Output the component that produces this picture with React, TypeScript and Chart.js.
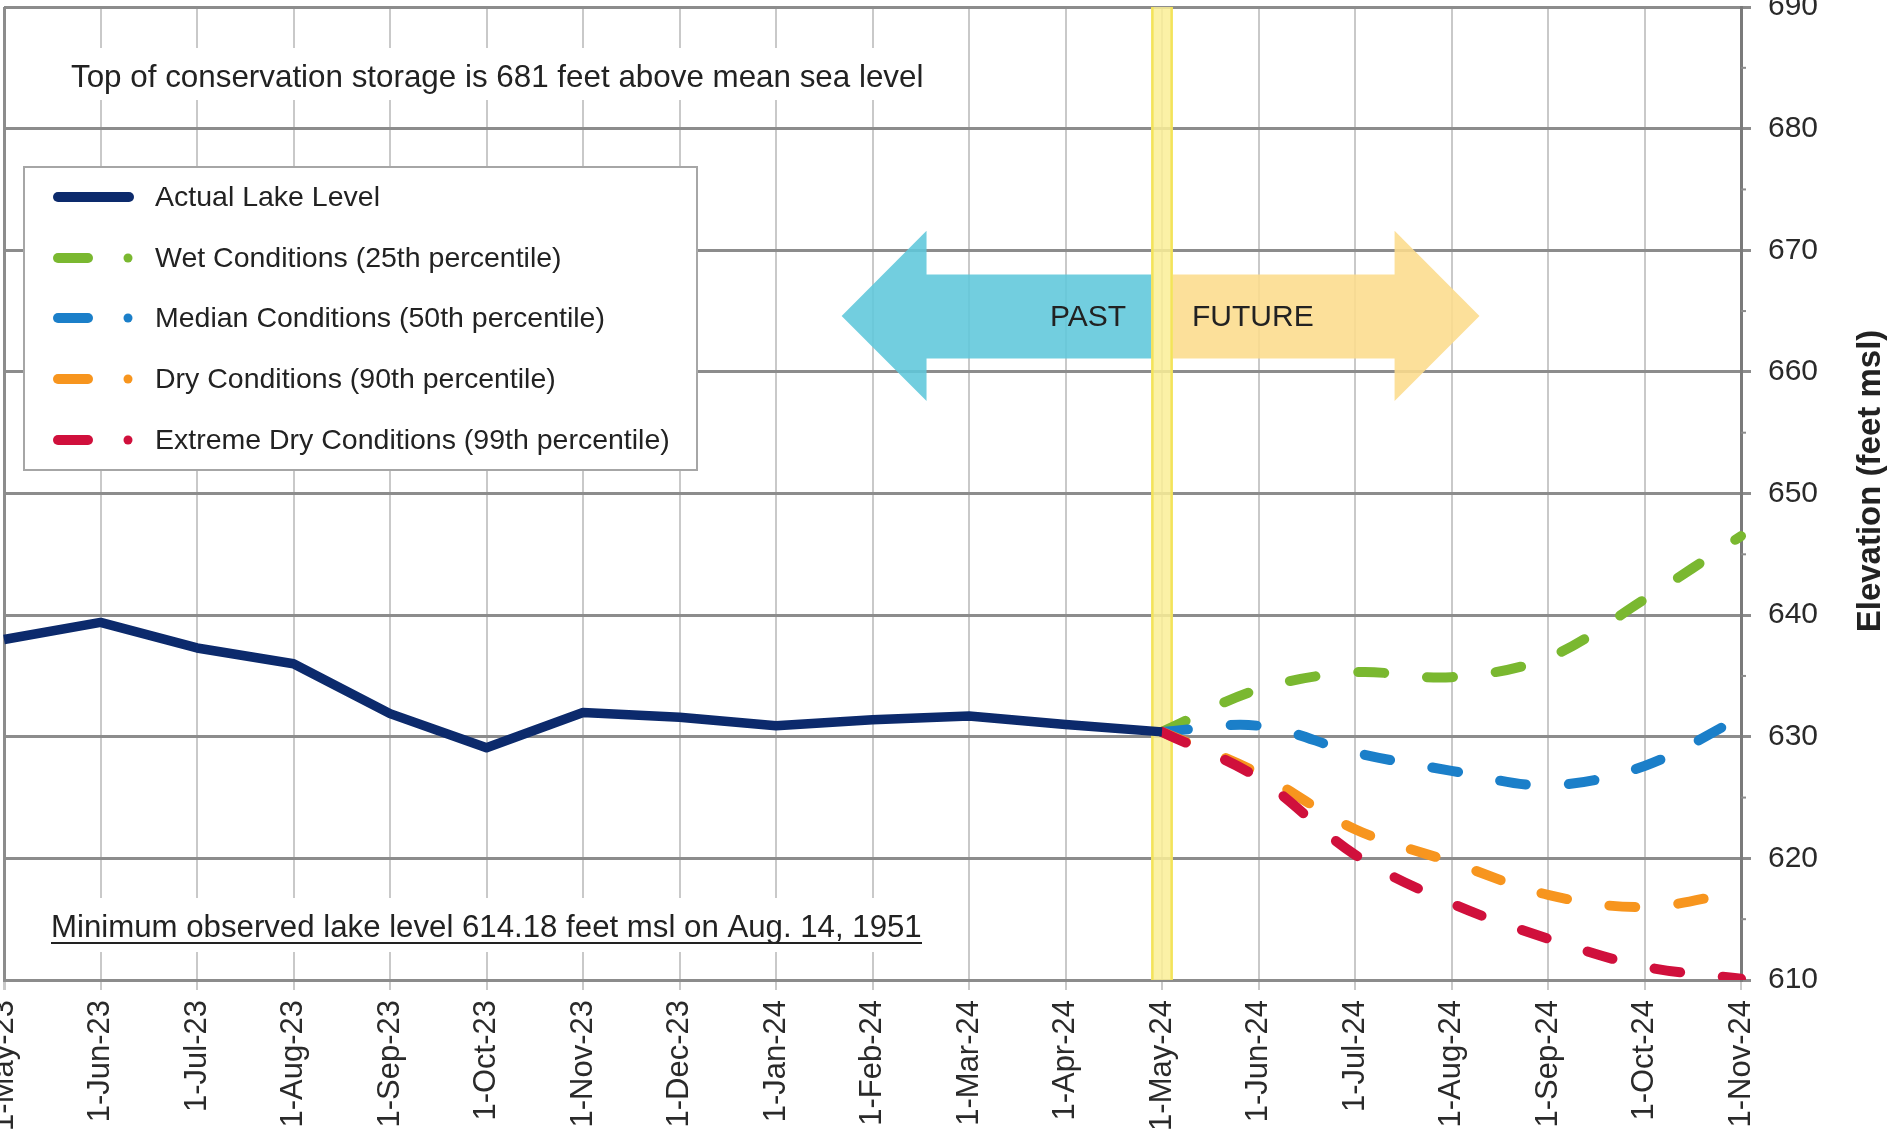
import React, { useEffect, useRef } from 'react';
import { Chart, registerables } from 'chart.js';

Chart.register(...registerables);

// ---------- data ----------
const monthLabels = [
  '1-May-23', '1-Jun-23', '1-Jul-23', '1-Aug-23', '1-Sep-23', '1-Oct-23', '1-Nov-23',
  '1-Dec-23', '1-Jan-24', '1-Feb-24', '1-Mar-24', '1-Apr-24', '1-May-24', '1-Jun-24',
  '1-Jul-24', '1-Aug-24', '1-Sep-24', '1-Oct-24', '1-Nov-24',
];

const actualLakeLevel = [
  638.0, 639.4, 637.3, 636.0, 631.9, 629.1, 632.0, 631.6, 630.9, 631.4, 631.7, 631.0, 630.4,
  null, null, null, null, null, null,
];
const wetConditions = [
  null, null, null, null, null, null, null, null, null, null, null, null,
  630.4, 633.9, 635.3, 634.9, 636.5, 641.3, 646.5,
];
const medianConditions = [
  null, null, null, null, null, null, null, null, null, null, null, null,
  630.4, 630.9, 628.7, 627.2, 626.0, 627.6, 631.6,
];
const dryConditions = [
  null, null, null, null, null, null, null, null, null, null, null, null,
  630.4, 627.0, 622.4, 619.7, 617.0, 616.0, 617.3,
];
const extremeDryConditions = [
  null, null, null, null, null, null, null, null, null, null, null, null,
  630.4, 626.6, 620.3, 616.3, 613.4, 611.1, 610.1,
];

const seriesNames = [
  'Actual Lake Level',
  'Wet Conditions (25th percentile)',
  'Median Conditions (50th percentile)',
  'Dry Conditions (90th percentile)',
  'Extreme Dry Conditions (99th percentile)',
];
const seriesColors = ['#0c2a6c', '#7ab830', '#1b7fc9', '#f7951e', '#d0103c'];

const yTickValues = [610, 620, 630, 640, 650, 660, 670, 680, 690];
const yMinorTickValues = [615, 625, 635, 645, 655, 665, 675, 685];

const topNote = 'Top of conservation storage is 681 feet above mean sea level';
const bottomNote = 'Minimum observed lake level 614.18 feet msl on Aug. 14, 1951';
const axisTitle = 'Elevation (feet msl)';
const pastLabel = 'PAST';
const futureLabel = 'FUTURE';

// ---------- styling ----------
const FONT = "'Liberation Sans', Arial, Helvetica, sans-serif";
const TEXT_COLOR = '#222222';
const MAJOR_GRID = '#8c8c8c';
const MINOR_GRID = '#c9c9c9';

function fitFontSize(ctx: CanvasRenderingContext2D, text: string, width: number, weight = '') {
  ctx.font = `${weight} 100px ${FONT}`;
  const w = ctx.measureText(text).width;
  return (100 * width) / w;
}

function drawArrow(
  ctx: CanvasRenderingContext2D,
  tipX: number,
  baseX: number,
  endX: number,
  cy: number,
  shaftTop: number,
  shaftBottom: number,
  headTop: number,
  headBottom: number,
  color: string
) {
  ctx.beginPath();
  ctx.moveTo(tipX, cy);
  ctx.lineTo(baseX, headTop);
  ctx.lineTo(baseX, shaftTop);
  ctx.lineTo(endX, shaftTop);
  ctx.lineTo(endX, shaftBottom);
  ctx.lineTo(baseX, shaftBottom);
  ctx.lineTo(baseX, headBottom);
  ctx.closePath();
  ctx.fillStyle = color;
  ctx.fill();
}

const annotationPlugin = {
  id: 'lakeAnnotations',
  beforeDatasetsDraw(chart: any) {
    const { ctx, chartArea, scales } = chart;
    const xs = scales.x;
    const ys = scales.y;
    ctx.save();

    // Top note white box + text
    const topSize = fitFontSize(ctx, topNote, 853);
    ctx.fillStyle = '#ffffff';
    ctx.fillRect(60, 48, 876, 52);
    ctx.font = `${topSize}px ${FONT}`;
    ctx.fillStyle = TEXT_COLOR;
    ctx.textAlign = 'left';
    ctx.textBaseline = 'middle';
    ctx.fillText(topNote, 71, 78);

    // Bottom note white box + underlined text
    const botSize = fitFontSize(ctx, bottomNote, 871);
    ctx.fillStyle = '#ffffff';
    ctx.fillRect(42, 898, 892, 54);
    ctx.font = `${botSize}px ${FONT}`;
    ctx.fillStyle = TEXT_COLOR;
    ctx.fillText(bottomNote, 51, 928);
    ctx.strokeStyle = TEXT_COLOR;
    ctx.lineWidth = 2;
    ctx.beginPath();
    ctx.moveTo(51, 943);
    ctx.lineTo(922, 943);
    ctx.stroke();

    // Arrows (semi-transparent, gridlines show through)
    const cy = ys.getPixelForValue(664.6);
    const shaftTop = ys.getPixelForValue(668.0);
    const shaftBottom = ys.getPixelForValue(661.1);
    const headTop = ys.getPixelForValue(671.6);
    const headBottom = ys.getPixelForValue(657.6);
    ctx.globalAlpha = 0.88;
    drawArrow(ctx, xs.getPixelForValue(8.68), xs.getPixelForValue(9.56), xs.getPixelForValue(11.89),
      cy, shaftTop, shaftBottom, headTop, headBottom, '#5fc7db');
    drawArrow(ctx, xs.getPixelForValue(15.29), xs.getPixelForValue(14.41), xs.getPixelForValue(12.11),
      cy, shaftTop, shaftBottom, headTop, headBottom, '#fcdc8c');
    ctx.globalAlpha = 1;

    ctx.font = `30px ${FONT}`;
    ctx.fillStyle = TEXT_COLOR;
    ctx.textBaseline = 'middle';
    ctx.textAlign = 'left';
    ctx.fillText(pastLabel, 1050, cy + 2);
    ctx.fillText(futureLabel, 1192, cy + 2);

    // Yellow "today" band at 1-May-24
    const bx0 = xs.getPixelForValue(11.89);
    const bx1 = xs.getPixelForValue(12.11);
    ctx.fillStyle = 'rgba(250, 238, 150, 0.85)';
    ctx.fillRect(bx0, chartArea.top, bx1 - bx0, chartArea.bottom - chartArea.top);
    ctx.strokeStyle = '#f3e35a';
    ctx.lineWidth = 2.5;
    ctx.beginPath();
    ctx.moveTo(bx0 + 1, chartArea.top);
    ctx.lineTo(bx0 + 1, chartArea.bottom);
    ctx.moveTo(bx1 - 1, chartArea.top);
    ctx.lineTo(bx1 - 1, chartArea.bottom);
    ctx.stroke();

    // Legend box
    ctx.fillStyle = '#ffffff';
    ctx.fillRect(24, 167, 673, 303);
    ctx.strokeStyle = '#a6a6a6';
    ctx.lineWidth = 2;
    ctx.strokeRect(24, 167, 673, 303);
    const rowY = [197, 258, 318, 379, 440];
    ctx.font = `28.5px ${FONT}`;
    ctx.textAlign = 'left';
    ctx.textBaseline = 'middle';
    seriesNames.forEach((name, i) => {
      const y = rowY[i];
      ctx.strokeStyle = seriesColors[i];
      ctx.fillStyle = seriesColors[i];
      ctx.lineCap = 'round';
      ctx.lineWidth = 10;
      ctx.beginPath();
      if (i === 0) {
        ctx.moveTo(58, y);
        ctx.lineTo(129, y);
        ctx.stroke();
      } else {
        ctx.moveTo(58, y);
        ctx.lineTo(88, y);
        ctx.stroke();
        ctx.beginPath();
        ctx.arc(128, y, 4.5, 0, Math.PI * 2);
        ctx.fill();
      }
      ctx.fillStyle = TEXT_COLOR;
      ctx.fillText(name, 155, y + 1);
    });
    ctx.lineCap = 'butt';
    ctx.restore();
  },
  afterDraw(chart: any) {
    const { ctx, chartArea, scales } = chart;
    const ys = scales.y;
    ctx.save();
    // minor ticks on right axis
    ctx.strokeStyle = MAJOR_GRID;
    ctx.lineWidth = 2;
    yMinorTickValues.forEach((v) => {
      const y = ys.getPixelForValue(v);
      ctx.beginPath();
      ctx.moveTo(chartArea.right, y);
      ctx.lineTo(chartArea.right + 5, y);
      ctx.stroke();
    });
    // axis title (reads bottom to top)
    ctx.translate(1871, 481);
    ctx.rotate(-Math.PI / 2);
    ctx.font = `bold 33px ${FONT}`;
    ctx.fillStyle = TEXT_COLOR;
    ctx.textAlign = 'center';
    ctx.textBaseline = 'middle';
    ctx.fillText(axisTitle, 0, 0);
    ctx.restore();
  },
};

function lineDataset(label: string, data: (number | null)[], color: string, dashed: boolean, order: number) {
  return {
    label,
    data,
    borderColor: color,
    backgroundColor: color,
    borderWidth: dashed ? 10 : 9.5,
    borderDash: dashed ? [26, 43] : [],
    borderCapStyle: dashed ? 'round' : 'butt',
    borderJoinStyle: 'round',
    pointRadius: 0,
    tension: dashed ? 0.35 : 0,
    fill: false,
    spanGaps: false,
    order,
  };
}

export default function App() {
  const canvasRef = useRef<HTMLCanvasElement>(null);

  useEffect(() => {
    document.body.style.margin = '0';
    document.body.style.overflow = 'hidden';
    const canvas = canvasRef.current;
    if (!canvas) return;

    const chart = new Chart(canvas, {
      type: 'line',
      data: {
        labels: monthLabels,
        datasets: [
          lineDataset(seriesNames[0], actualLakeLevel, seriesColors[0], false, 0),
          lineDataset(seriesNames[1], wetConditions, seriesColors[1], true, 4),
          lineDataset(seriesNames[2], medianConditions, seriesColors[2], true, 3),
          lineDataset(seriesNames[3], dryConditions, seriesColors[3], true, 2),
          lineDataset(seriesNames[4], extremeDryConditions, seriesColors[4], true, 1),
        ] as any,
      },
      options: {
        responsive: false,
        maintainAspectRatio: false,
        animation: false,
        devicePixelRatio: 1,
        layout: { padding: { left: 4, top: 7, right: 0, bottom: 0 } },
        plugins: {
          legend: { display: false },
          tooltip: { enabled: false },
          title: { display: false },
        },
        scales: {
          x: {
            type: 'category',
            offset: false,
            grid: {
              color: (c: any) => (c.index === 0 ? MAJOR_GRID : MINOR_GRID),
              lineWidth: (c: any) => (c.index === 0 ? 3 : 2),
              tickLength: 10,
              tickColor: MINOR_GRID,
              drawTicks: true,
            },
            border: { display: true, color: MAJOR_GRID, width: 3 },
            ticks: {
              autoSkip: false,
              maxRotation: 90,
              minRotation: 90,
              padding: 10,
              color: '#2a2a2a',
              font: { family: FONT, size: 31 },
            },
            afterFit: (axis: any) => {
              axis.height = 158;
              axis.paddingLeft = 0;
              axis.paddingRight = 0;
            },
          },
          y: {
            type: 'linear',
            position: 'right',
            min: 610,
            max: 690,
            afterBuildTicks: (axis: any) => {
              axis.ticks = yTickValues.map((v) => ({ value: v }));
            },
            grid: {
              color: MAJOR_GRID,
              lineWidth: 3,
              tickLength: 10,
              tickColor: MAJOR_GRID,
            },
            border: { display: true, color: '#7a7a7a', width: 3 },
            ticks: {
              padding: 17,
              color: '#2a2a2a',
              font: { family: FONT, size: 30 },
            },
            afterFit: (axis: any) => {
              axis.width = 151;
              axis.paddingTop = 0;
              axis.paddingBottom = 0;
            },
          },
        },
      } as any,
      plugins: [annotationPlugin],
    });

    return () => chart.destroy();
  }, []);

  return (
    <div style={{ width: 1892, height: 1138, background: '#ffffff', overflow: 'hidden' }}>
      <canvas
        ref={canvasRef}
        width={1892}
        height={1138}
        style={{ display: 'block', width: 1892, height: 1138 }}
      />
    </div>
  );
}
